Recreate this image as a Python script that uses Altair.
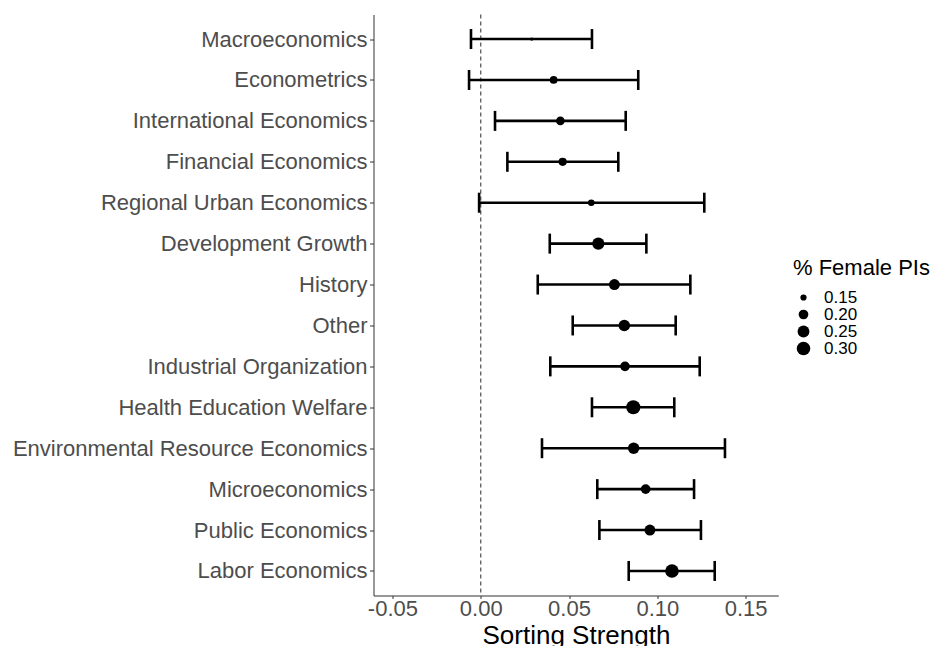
import altair as alt
import pandas as pd

# Fields, listed top to bottom
fields = [
    "Macroeconomics",
    "Econometrics",
    "International Economics",
    "Financial Economics",
    "Regional Urban Economics",
    "Development Growth",
    "History",
    "Other",
    "Industrial Organization",
    "Health Education Welfare",
    "Environmental Resource Economics",
    "Microeconomics",
    "Public Economics",
    "Labor Economics",
]
# Sorting strength estimate with its confidence interval
estimate = [0.0289, 0.0413, 0.0451, 0.0464, 0.0626, 0.0666, 0.0757,
            0.0813, 0.0817, 0.0864, 0.0866, 0.0934, 0.0958, 0.1083]
ci_low = [-0.0055, -0.0066, 0.0081, 0.0151, -0.0009, 0.0391, 0.0323,
          0.0521, 0.0394, 0.0630, 0.0347, 0.0660, 0.0672, 0.0838]
ci_high = [0.0630, 0.0892, 0.0821, 0.0779, 0.1266, 0.0938, 0.1187,
           0.1104, 0.1240, 0.1096, 0.1383, 0.1208, 0.1247, 0.1325]
# Share of female principal investigators per field
female_share = [0.136, 0.168, 0.181, 0.175, 0.154, 0.259, 0.227,
                0.242, 0.202, 0.320, 0.242, 0.202, 0.227, 0.300]

legend_values = [0.15, 0.20, 0.25, 0.30]

df = pd.DataFrame({
    "field": fields,
    "estimate": estimate,
    "lo": ci_low,
    "hi": ci_high,
    "female": female_share,
})

FONT = "Liberation Sans"
TEXT_GREY = "#4D4D4D"

y_enc = alt.Y(
    "field:N",
    sort=fields,
    scale=alt.Scale(type="point", padding=0.6),
    axis=alt.Axis(
        title=None,
        labelFontSize=22,
        labelColor=TEXT_GREY,
        labelFont=FONT,
        labelPadding=2.5,
        tickSize=4,
        tickColor="#333333",
        domainColor="#333333",
        domainWidth=1,
        labelLimit=500,
    ),
)

x_scale = alt.Scale(domain=[-0.0607, 0.1685], nice=False, zero=False)
x_axis = alt.Axis(
    title="Sorting Strength",
    values=[-0.05, 0.0, 0.05, 0.10, 0.15],
    format=".2f",
    labelExpr="replace(datum.label, '\u2212', '-')",
    labelFontSize=22,
    labelColor=TEXT_GREY,
    labelFont=FONT,
    labelPadding=0,
    tickSize=3,
    tickColor="#333333",
    domainColor="#333333",
    domainWidth=1,
    titleFontSize=26,
    titleFont=FONT,
    titleColor="black",
    titleFontWeight="normal",
    titlePadding=3,
    grid=False,
)

base = alt.Chart(df)

zero_line = alt.Chart(pd.DataFrame({"z": [0.0]})).mark_rule(
    color="#666666", strokeWidth=1.4, strokeDash=[4, 3]
).encode(x=alt.X("z:Q", scale=x_scale, axis=x_axis))

bars = base.mark_rule(color="black", strokeWidth=2.6).encode(
    x=alt.X("lo:Q", scale=x_scale, axis=x_axis),
    x2="hi:Q",
    y=y_enc,
)

cap_lo = base.mark_tick(color="black", thickness=2.6, size=20, opacity=1).encode(
    x=alt.X("lo:Q", scale=x_scale, axis=x_axis), y=y_enc
)
cap_hi = base.mark_tick(color="black", thickness=2.6, size=20, opacity=1).encode(
    x=alt.X("hi:Q", scale=x_scale, axis=x_axis), y=y_enc
)

points = base.mark_circle(color="black", opacity=1).encode(
    x=alt.X("estimate:Q", scale=x_scale, axis=x_axis),
    y=y_enc,
    size=alt.Size(
        "female:Q",
        scale=alt.Scale(
            domain=[0.1355, 0.14, 0.15, 0.175, 0.20, 0.25, 0.30, 0.35],
            range=[9.6, 23.3, 38.5, 67.6, 93.0, 139.8, 183.6, 225.9],
        ),
        legend=alt.Legend(
            title="% Female PIs",
            values=legend_values,
            format=".2f",
            orient="none",
            legendX=419.5,
            legendY=243.5,
            direction="vertical",
            titleFontSize=22,
            titleFont=FONT,
            titleColor="black",
            titleFontWeight="normal",
            titlePadding=9,
            labelFontSize=17,
            labelFont=FONT,
            labelColor="black",
            labelOffset=12,
            symbolType="circle",
            symbolFillColor="black",
            symbolStrokeWidth=0,
            symbolOpacity=1,
            symbolOffset=2,
            rowPadding=-3.7,
            padding=0,
        ),
    ),
)

chart = (
    alt.layer(zero_line, bars, cap_lo, cap_hi, points)
    .properties(
        width=404.8,
        height=581,
        padding={"left": 373.5, "top": 14.5, "right": 156.7, "bottom": 50.5},
        autosize=alt.AutoSizeParams(type="none"),
        background="white",
    )
    .configure_view(stroke=None)
)

chart.save("out.html", embed_options={"renderer": "svg", "actions": False})
